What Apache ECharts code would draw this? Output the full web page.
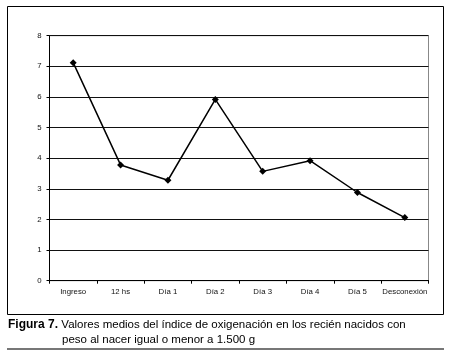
<!DOCTYPE html>
<html><head><meta charset="utf-8">
<script src="https://cdn.jsdelivr.net/npm/echarts@6/dist/echarts.min.js"></script>
<style>html,body{margin:0;padding:0;background:#fff}#c{width:449px;height:356px}</style>
</head><body><div id="c"></div>
<script>
var categories = ['Ingreso', '12 hs', 'Día 1', 'Día 2', 'Día 3', 'Día 4', 'Día 5', 'Desconexión'];
var values = [7.12, 3.78, 3.28, 5.92, 3.57, 3.92, 2.88, 2.06];
var yTicks = [0, 1, 2, 3, 4, 5, 6, 7, 8];

var chart = echarts.init(document.getElementById('c'), null, {renderer: 'canvas'});
chart.setOption({
  animation: false,
  backgroundColor: '#fff',
  grid: {left: 49.5, right: 20.5, top: 35.7, bottom: 75.3, show: true, borderColor: '#888', borderWidth: 1, backgroundColor: 'transparent'},
  xAxis: {
    type: 'category', data: categories, boundaryGap: true,
    axisLine: {lineStyle: {color: '#000', width: 1}},
    axisTick: {show: true, inside: false, length: 3, lineStyle: {color: '#000'}},
    axisLabel: {color: '#111', fontFamily: 'Liberation Sans', fontSize: 7.8, margin: 7, interval: 0}
  },
  yAxis: {
    type: 'value', min: yTicks[0], max: yTicks[yTicks.length - 1], interval: 1,
    axisLine: {show: true, lineStyle: {color: '#000', width: 1}},
    axisTick: {show: true, length: 3, lineStyle: {color: '#000'}},
    axisLabel: {color: '#111', fontFamily: 'Liberation Sans', fontSize: 7.8, margin: 8},
    splitLine: {show: true, lineStyle: {color: '#111', width: 1}}
  },
  series: [{
    type: 'line', data: values,
    symbol: 'diamond', symbolSize: 7,
    itemStyle: {color: '#000'},
    lineStyle: {color: '#000', width: 1.5}
  }],
  graphic: [
    {type: 'rect', shape: {x: 7.5, y: 6.5, width: 436, height: 308}, style: {fill: null, stroke: '#000', lineWidth: 1}, z: -1},
    {type: 'text', left: 8, top: 319, style: {
      text: '{b|Figura 7.} {n|Valores medios del índice de oxigenación en los recién nacidos con}',
      rich: {b: {fontFamily: 'Liberation Sans', fontWeight: 'bold', fontSize: 12, fill: '#000'},
             n: {fontFamily: 'Liberation Sans', fontSize: 11.5, fill: '#000'}}
    }},
    {type: 'text', left: 62, top: 334, style: {
      text: 'peso al nacer igual o menor a 1.500 g', fontFamily: 'Liberation Sans', fontSize: 11.5, fill: '#000'
    }},
    {type: 'rect', shape: {x: 7, y: 348, width: 437, height: 2}, style: {fill: '#777'}}
  ]
});
</script></body></html>
